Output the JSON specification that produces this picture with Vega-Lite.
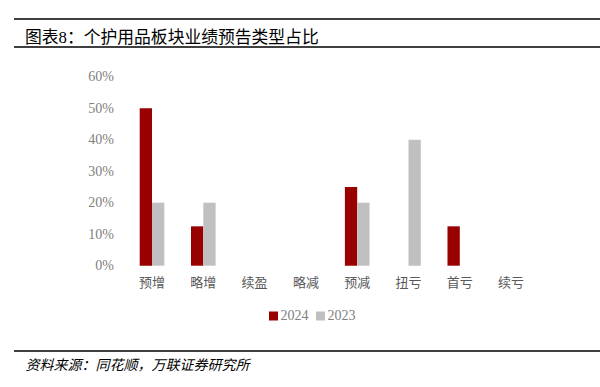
{
  "$schema": "https://vega.github.io/schema/vega-lite/v6.json",
  "width": 586,
  "height": 332,
  "autosize": {"type": "none"},
  "padding": {"left": 14, "top": 19, "right": 0, "bottom": 36},
  "background": "white",
  "title": {
    "text": "图表8：个护用品板块业绩预告类型占比",
    "anchor": "start",
    "frame": "group",
    "dx": 11,
    "dy": 23,
    "offset": -14,
    "baseline": "middle",
    "font": "Liberation Serif, Noto Sans CJK SC",
    "fontSize": 16.8,
    "fontWeight": "normal",
    "color": "#000000"
  },
  "data": {
    "values": [
      {"cat": "预增", "year": "2024", "value": 0.5},
      {"cat": "预增", "year": "2023", "value": 0.2},
      {"cat": "略增", "year": "2024", "value": 0.125},
      {"cat": "略增", "year": "2023", "value": 0.2},
      {"cat": "续盈", "year": "2024", "value": 0},
      {"cat": "续盈", "year": "2023", "value": 0},
      {"cat": "略减", "year": "2024", "value": 0},
      {"cat": "略减", "year": "2023", "value": 0},
      {"cat": "预减", "year": "2024", "value": 0.25},
      {"cat": "预减", "year": "2023", "value": 0.2},
      {"cat": "扭亏", "year": "2024", "value": 0},
      {"cat": "扭亏", "year": "2023", "value": 0.4},
      {"cat": "首亏", "year": "2024", "value": 0.125},
      {"cat": "首亏", "year": "2023", "value": 0},
      {"cat": "续亏", "year": "2024", "value": 0},
      {"cat": "续亏", "year": "2023", "value": 0}
    ]
  },
  "layer": [
    {
      "mark": {"type": "bar"},
      "encoding": {
        "x": {
          "field": "cat",
          "type": "nominal",
          "sort": ["预增", "略增", "续盈", "略减", "预减", "扭亏", "首亏", "续亏"],
          "scale": {"range": [125.7, 509.4], "paddingInner": 0.52, "paddingOuter": 0, "round": false},
          "axis": {
            "orient": "bottom",
            "offset": -85.3,
            "domain": false,
            "ticks": false,
            "tickSize": 0,
            "grid": false,
            "labelAngle": 0,
            "labelPadding": 11,
            "labelFont": "Liberation Serif, Noto Sans CJK SC",
            "labelFontSize": 13,
            "labelColor": "#595959",
            "title": "资料来源：同花顺，万联证券研究所",
            "titleFont": "Liberation Serif, Noto Sans CJK SC",
            "titleFontSize": 14,
            "titleFontStyle": "italic",
            "titleFontWeight": "normal",
            "titleColor": "#000000",
            "titleAnchor": "start",
            "titleAlign": "left",
            "titleBaseline": "middle",
            "titleX": 11,
            "titleY": 99.3
          }
        },
        "xOffset": {
          "field": "year",
          "type": "nominal",
          "sort": ["2024", "2023"],
          "scale": {"paddingInner": 0, "paddingOuter": 0}
        },
        "y": {
          "field": "value",
          "type": "quantitative",
          "scale": {"domain": [-0.2708, 0.7832], "nice": false, "zero": false},
          "axis": {
            "orient": "left",
            "offset": -99.3,
            "values": [0, 0.1, 0.2, 0.3, 0.4, 0.5, 0.6],
            "format": ".0%",
            "labelOverlap": false,
            "domain": false,
            "ticks": false,
            "tickSize": 0,
            "labelPadding": 0,
            "labelFont": "Liberation Serif",
            "labelFontSize": 14,
            "labelColor": "#808080",
            "grid": false,
            "title": null
          }
        },
        "y2": {"datum": 0},
        "color": {
          "field": "year",
          "type": "nominal",
          "sort": ["2024", "2023"],
          "scale": {"domain": ["2024", "2023"], "range": ["#990000", "#c0c0c0"]},
          "legend": {
            "orient": "none",
            "legendX": 252.5,
            "legendY": 290,
            "direction": "horizontal",
            "title": null,
            "symbolType": "square",
            "symbolSize": 81,
            "symbolStrokeWidth": 0,
            "labelFont": "Liberation Serif",
            "labelFontSize": 14,
            "labelColor": "#808080",
            "labelOffset": 0,
            "columnPadding": 5,
            "padding": 0
          }
        }
      }
    },
    {
      "data": {"values": [{}]},
      "mark": {"type": "rule", "color": "#000000", "strokeWidth": 1.5, "clip": false},
      "encoding": {"y": {"datum": 0.7832, "type": "quantitative"}}
    },
    {
      "data": {"values": [{}]},
      "mark": {"type": "rule", "color": "#000000", "strokeWidth": 1.5, "clip": false},
      "encoding": {"y": {"datum": 0.6943, "type": "quantitative"}}
    },
    {
      "data": {"values": [{}]},
      "mark": {"type": "rule", "color": "#000000", "strokeWidth": 1.5, "clip": false},
      "encoding": {"y": {"datum": -0.2708, "type": "quantitative"}}
    }
  ],
  "config": {
    "view": {"stroke": null}
  }
}
